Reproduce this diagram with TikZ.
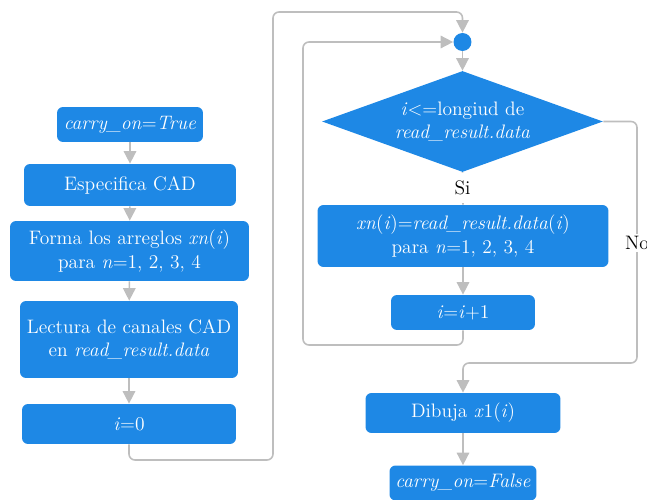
\documentclass[tikz,border=0pt]{standalone}
\usetikzlibrary{shapes.geometric,arrows.meta}

\definecolor{boxblue}{RGB}{30,136,229}
\definecolor{linegray}{RGB}{190,190,190}

\tikzset{
  stepbox/.style={rectangle, rounded corners=0.12cm, fill=boxblue, text=white,
    align=center, inner sep=0pt, font=\fontsize{11.1}{13.3}\selectfont},
  decision/.style={diamond, fill=boxblue, text=white, align=center, inner sep=0pt,
    aspect=2.78, font=\fontsize{11.1}{13.3}\selectfont},
  joint/.style={circle, fill=boxblue, inner sep=0pt, minimum size=0.36cm},
  flow/.style={draw=linegray, line width=0.9pt, rounded corners=0.12cm,
    -{Triangle[width=0.25cm,length=0.25cm,fill=linegray]}},
  plain/.style={draw=linegray, line width=0.9pt, rounded corners=0.12cm},
  answer/.style={fill=white, inner sep=1pt, font=\fontsize{11.1}{13.3}\selectfont}
}

\begin{document}
\begin{tikzpicture}[x=0.02cm, y=-0.02cm]
        \useasboundingbox (0,0) rectangle (647,500);

        % left column
        \node[stepbox, minimum width=2.92cm, minimum height=0.70cm] (tru) at (130,124.5) {\textit{carry\_on}=\textit{True}};
        \node[stepbox, minimum width=4.24cm, minimum height=0.84cm] (esp) at (130,185) {Especifica CAD};
        \node[stepbox, minimum width=4.78cm, minimum height=1.20cm] (forma) at (129.5,251) {Forma los arreglos \textit{xn}(\textit{i})\\para \textit{n}=1, 2, 3, 4};
        \node[stepbox, minimum width=4.36cm, minimum height=1.54cm] (lect) at (129,339.5) {Lectura de canales CAD\\en \textit{read\_result.data}};
        \node[stepbox, minimum width=4.28cm, minimum height=0.80cm] (izero) at (129,424) {\textit{i}=0};

        % right column
        \node[joint] (dot) at (462.5,42) {};
        \node[decision, minimum width=5.62cm, minimum height=2.02cm] (dia) at (462.5,121.5) {\textit{i}{<}=longiud de\\\textit{read\_result.data}};
        \node[stepbox, minimum width=5.82cm, minimum height=1.24cm] (xn) at (463,236) {\textit{xn}(\textit{i})=\textit{read\_result.data}(\textit{i})\\para \textit{n}=1, 2, 3, 4};
        \node[stepbox, minimum width=2.88cm, minimum height=0.70cm] (inc) at (463,312.5) {\textit{i}=\textit{i}+1};
        \node[stepbox, minimum width=3.90cm, minimum height=0.80cm] (dib) at (463,413) {Dibuja \textit{x}1(\textit{i})};
        \node[stepbox, minimum width=2.94cm, minimum height=0.70cm] (fal) at (463,483) {\textit{carry\_on}=\textit{False}};

        \coordinate (c1) at (273,460);
        \coordinate (c2) at (462.5,12);
        \coordinate (c3) at (303,345);
        \coordinate (c4) at (637,363);

        % arrows
        \draw[flow] (tru) -- (esp);
        \draw[flow] (esp) -- (forma);
        \draw[flow] (forma) -- (lect);
        \draw[flow] (lect) -- (izero);
        \draw[flow] (izero.south) |- (c1) |- (c2) -- (dot.north);
        \draw[flow] (dot) -- (dia);
        \draw[plain] (dia.south) -- (xn.north);
        \draw[flow] (xn) -- (inc);
        \draw[flow] (inc.south) |- (c3) |- (dot.west);
        \draw[flow] (dia.east) -| (c4) -| (dib.north);
        \draw[flow] (dib) -- (fal);

        \node[answer, minimum height=0.60cm] (si) at (462.5,188) {Si};
        \node[answer] (no) at (637,243) {No};
    \end{tikzpicture}
\end{document}
